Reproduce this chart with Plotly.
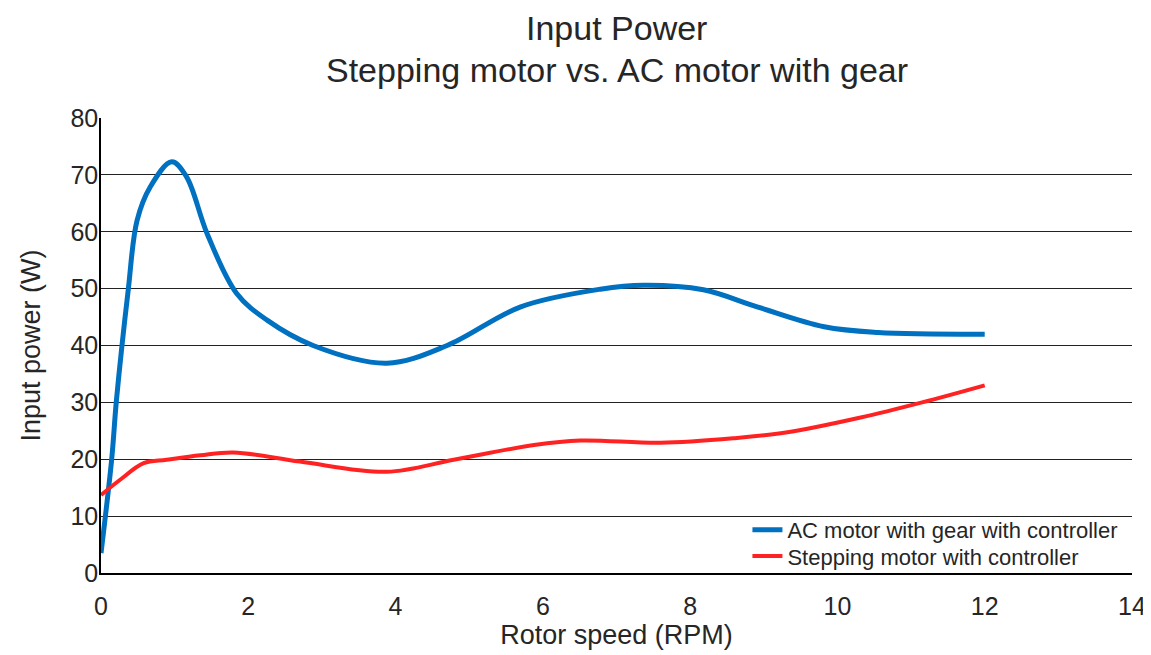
import plotly.graph_objects as go

# Data
ac_speed = [0, 0.145, 0.21, 0.37, 0.49, 0.67, 0.96, 1.16, 1.44, 1.84, 2.25, 2.88,
            3.88, 4.7, 5.7, 6.78, 7.37, 8.18, 8.91, 9.82, 10.55, 12.0]
ac_power = [3.5, 20, 30.4, 49.8, 62, 67.9, 72.3, 69.7, 59.7, 49.2, 44.5, 40,
            36.9, 40, 46.8, 49.9, 50.6, 49.8, 46.8, 43.3, 42.3, 42.0]

step_speed = [0, 0.26, 0.58, 0.89, 1.35, 1.8, 2.7, 3.88, 4.79, 5.88, 6.51, 7.6,
              8.59, 9.3, 10.3, 11.15, 12.0]
step_power = [13.7, 16.4, 19.3, 19.9, 20.7, 21.2, 19.6, 17.8, 19.9, 22.5, 23.3, 22.9,
              23.7, 24.7, 27.3, 30.0, 33.0]

x_ticks = [0, 2, 4, 6, 8, 10, 12, 14]
y_ticks = [0, 10, 20, 30, 40, 50, 60, 70, 80]

title_lines = ["Input Power", "Stepping motor vs. AC motor with gear"]

TXT = "#262626"
FONT = "Liberation Sans, Arial, sans-serif"

fig = go.Figure()
fig.add_trace(go.Scatter(
    x=ac_speed, y=ac_power, mode="lines", name="AC motor with gear with controller",
    line=dict(color="#0070C0", width=5, shape="spline", smoothing=1.0),
    legend="legend",
))
fig.add_trace(go.Scatter(
    x=step_speed, y=step_power, mode="lines", name="Stepping motor with controller",
    line=dict(color="#FF2222", width=4, shape="spline", smoothing=1.0),
    legend="legend2",
))

# Title lines as annotations (centered over the plot area)
for text, ypos in zip(title_lines, [1.198, 1.106]):
    fig.add_annotation(
        text=text, xref="paper", yref="paper", x=0.5, y=ypos,
        xanchor="center", yanchor="middle", showarrow=False, borderpad=0,
        font=dict(size=34, color=TXT, family=FONT),
    )

leg_common = dict(
    xanchor="left", yanchor="middle",
    bgcolor="rgba(255,255,255,0)",
    font=dict(size=22, color=TXT, family=FONT),
    itemwidth=30,
)

fig.update_layout(
    width=1151, height=655,
    margin=dict(l=93, r=27, t=110, b=90, autoexpand=False),
    paper_bgcolor="white", plot_bgcolor="white",
    font=dict(family=FONT, color=TXT),
    xaxis=dict(
        range=[0, 14], tickvals=x_ticks, ticktext=[str(v) for v in x_ticks],
        showgrid=False, zeroline=False, automargin=False,
        showline=True, linecolor="black", linewidth=1.5,
        ticks="", tickfont=dict(size=25, color=TXT), ticklabelstandoff=10,
        title=dict(text="Rotor speed (RPM)", font=dict(size=27, color=TXT), standoff=6),
    ),
    yaxis=dict(
        range=[0, 80], tickvals=y_ticks, ticktext=[str(v) for v in y_ticks],
        showgrid=True, gridcolor="#222222", gridwidth=1,
        zeroline=False, automargin=False,
        showline=True, linecolor="black", linewidth=1.5,
        ticks="", tickfont=dict(size=25, color=TXT), ticklabelstandoff=-4,
        title=dict(text="Input power (W)", font=dict(size=27, color=TXT), standoff=22),
    ),
    legend=dict(x=0.627, y=0.0945, **leg_common),
    legend2=dict(x=0.627, y=0.037, **leg_common),
    showlegend=True,
)

fig.write_html("out.html")
